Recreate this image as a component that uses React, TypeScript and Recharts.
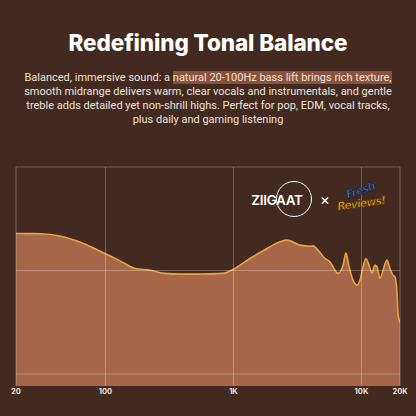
import React from 'react';
import { AreaChart, Area, XAxis, YAxis, ReferenceLine } from 'recharts';

const freqs = [20, 31, 44, 63, 99, 130, 170, 223, 292, 382, 548, 828, 991, 1346, 1828, 2310, 2620, 3310, 3960, 4180, 4580, 5190, 5680, 6210, 6560, 7180, 7570, 8000, 8590, 9230, 9740, 10280, 10840, 11460, 12080, 12760, 13220, 13960, 14740, 15820, 16700, 17620, 18280, 18960, 19290, 20000];
const levels = [13.57, 13.55, 13.34, 12.76, 11.64, 10.93, 10.2, 10.03, 9.72, 9.65, 9.65, 9.72, 10.1, 11.16, 12.13, 12.77, 12.93, 12.45, 12.35, 12.38, 11.96, 11.16, 10.83, 10.03, 9.72, 10.52, 11.68, 10.35, 9.07, 8.59, 9.07, 10.35, 11.16, 10.52, 9.77, 10.52, 10.35, 9.23, 10.03, 11.0, 10.2, 9.55, 9.39, 7.81, 5.88, 4.92];
const xTicks = [20, 100, 1000, 10000, 20000];
const xTickLabels = ['20', '100', '1K', '10K', '20K'];
const yGrid = [0, 10, 20];

const title = 'Redefining Tonal Balance';
const introPlain = 'Balanced, immersive sound: a ';
const introHighlight = 'natural 20-100Hz bass lift brings rich texture,';
const bodyLines = [
  'smooth midrange delivers warm, clear vocals and instrumentals, and gentle',
  'treble adds detailed yet non-shrill highs. Perfect for pop, EDM, vocal tracks,',
  'plus daily and gaming listening',
];
const brandLeft = 'ZIIGAAT';
const brandTop = 'Fresh';
const brandBottom = 'Reviews!';

const data = freqs.map((f, i) => ({ f, v: levels[i] }));

export default function App() {
  return (
    <div style={{ position: 'absolute', left: 0, top: 0, width: 416, height: 416, background: '#432a20', overflow: 'hidden' }}>
      <div style={{ position: 'absolute', left: 0, top: 31, width: 416, textAlign: 'center', color: '#ffffff', fontFamily: 'Inter', fontWeight: 800, fontSize: 22.5, lineHeight: '24px', letterSpacing: -0.1 }}>
        {title}
      </div>
      <div style={{ position: 'absolute', left: 0, top: 71, width: 416, textAlign: 'center', color: '#ece2db', fontFamily: 'Roboto', fontSize: 11, lineHeight: '14px' }}>
        <div>
          {introPlain}
          <span style={{ background: 'rgba(190,108,76,0.6)' }}>{introHighlight}</span>
        </div>
        {bodyLines.map((l) => (
          <div key={l}>{l}</div>
        ))}
      </div>
      <div style={{ position: 'absolute', left: 0, top: 0 }}>
        <AreaChart width={416} height={416} data={data} margin={{ top: 167, right: 16, bottom: 0, left: 16 }}>
          <XAxis
            dataKey="f"
            type="number"
            scale="log"
            domain={[20, 20000]}
            ticks={xTicks}
            interval={0}
            allowDataOverflow
            axisLine={false}
            tickLine={false}
            tickSize={0}
            tickMargin={3}
            height={30}
            tickFormatter={(v: number) => xTickLabels[xTicks.indexOf(v)] ?? String(v)}
            tick={{ fill: '#ece2db', fontSize: 7.5, fontWeight: 700, fontFamily: 'Inter' }}
          />
          <YAxis hide type="number" domain={[-1.16, 20]} allowDataOverflow />
          <Area
            type="monotone"
            dataKey="v"
            stroke="#eba43c"
            strokeWidth={1.6}
            fill="#a6664a"
            fillOpacity={1}
            baseValue="dataMin"
            dot={false}
            activeDot={false}
            isAnimationActive={false}
          />
          {xTicks.map((t) => (
            <ReferenceLine key={'x' + t} x={t} stroke="#ffffff" strokeOpacity={0.28} strokeWidth={1} />
          ))}
          {yGrid.map((t) => (
            <ReferenceLine key={'y' + t} y={t} stroke="#ffffff" strokeOpacity={0.28} strokeWidth={1} />
          ))}
        </AreaChart>
      </div>
      <svg width={416} height={416} style={{ position: 'absolute', left: 0, top: 0, pointerEvents: 'none' }}>
        <text x={277} y={205} textAnchor="middle" fill="#ffffff" fontFamily="Inter" fontWeight={600} fontSize={13.5} letterSpacing={-0.3}>
          {brandLeft}
        </text>
        <circle cx={294} cy={199} r={17.5} fill="none" stroke="#ffffff" strokeWidth={1} />
        <text x={325} y={205} textAnchor="middle" fill="#ffffff" fontFamily="Inter" fontWeight={400} fontSize={15}>
          ×
        </text>
        <g transform="rotate(-18 361 192)">
          <text x={361} y={194} textAnchor="middle" fill="#3f74c9" stroke="#1d2440" strokeWidth={0.8} fontFamily="DejaVu Sans" fontStyle="italic" fontWeight={700} fontSize={11} letterSpacing={-0.8}>
            {brandTop}
          </text>
        </g>
        <g transform="rotate(-8 361 202)">
          <text x={361} y={207} textAnchor="middle" fill="#f0aa2e" stroke="#5a3a10" strokeWidth={0.8} fontFamily="DejaVu Sans" fontStyle="italic" fontWeight={700} fontSize={11} letterSpacing={-0.9}>
            {brandBottom}
          </text>
        </g>
      </svg>
    </div>
  );
}
